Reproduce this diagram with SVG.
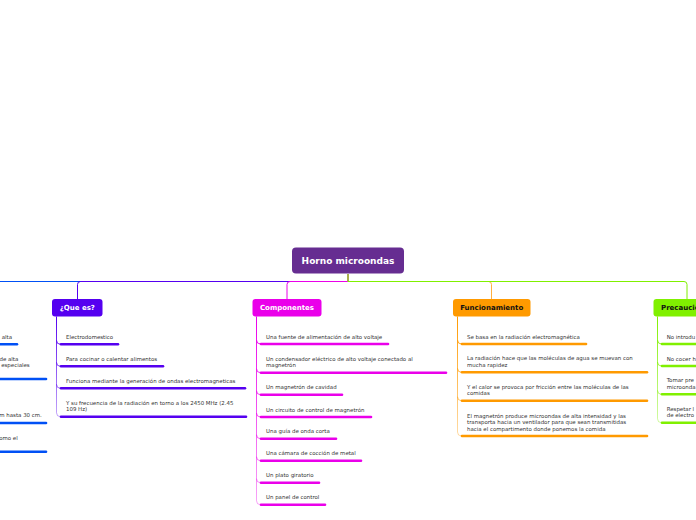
<svg xmlns="http://www.w3.org/2000/svg" width="696" height="520" viewBox="0 0 696 520">
<style>
.root{font-family:"DejaVu Sans",Verdana,sans-serif;font-weight:bold;font-size:9px;fill:#fff;text-anchor:middle}
.br{font-family:"DejaVu Sans",Verdana,sans-serif;font-weight:bold;font-size:7px;text-anchor:middle}
.t{font-family:"DejaVu Sans",Verdana,sans-serif;font-size:5.45px;fill:#333}
.te{font-family:"DejaVu Sans",Verdana,sans-serif;font-size:5.45px;fill:#333;text-anchor:end}
.c{fill:none;stroke-width:1}
.u{stroke-width:2.6;stroke-linecap:round}
</style>
<defs>
<linearGradient id="gQ" x1="0" y1="0" x2="0" y2="1"><stop offset="0" stop-color="#5500f0"/><stop offset="1" stop-color="#5500f0" stop-opacity="0.35"/></linearGradient>
<linearGradient id="gC" x1="0" y1="0" x2="0" y2="1"><stop offset="0" stop-color="#ea00ea"/><stop offset="1" stop-color="#ea00ea" stop-opacity="0.35"/></linearGradient>
<linearGradient id="gF" x1="0" y1="0" x2="0" y2="1"><stop offset="0" stop-color="#ff9a00"/><stop offset="1" stop-color="#ff9a00" stop-opacity="0.35"/></linearGradient>
<linearGradient id="gP" x1="0" y1="0" x2="0" y2="1"><stop offset="0" stop-color="#80f000"/><stop offset="1" stop-color="#80f000" stop-opacity="0.35"/></linearGradient>
</defs>
<rect width="696" height="520" fill="#fff"/>

<g id="connectors">
<path class="c" stroke="#0050f5" d="M348 274 V281.5 H-10"/>
<path class="c" stroke="#5500f0" d="M348 274 V281.5 H80.5 Q77.5 281.5 77.5 284.5 V299"/>
<path class="c" stroke="#ea00ea" d="M348 274 V281.5 H290 Q287 281.5 287 284.5 V299"/>
<path class="c" stroke="#ffb040" d="M348 274 V281.5 H488.5 Q491.5 281.5 491.5 284.5 V299"/>
<path class="c" stroke="#80f000" d="M348 274 V281.5 H684 Q687 281.5 687 284.5 V299"/>
<path class="c" stroke="url(#gQ)" d="M56.5 316.5 V412.7 M56.5 340.3 Q56.5 344.3 60.5 344.3 M56.5 362.3 Q56.5 366.3 60.5 366.3 M56.5 384.3 Q56.5 388.3 60.5 388.3 M56.5 412.7 Q56.5 416.7 60.5 416.7"/>
<path class="c" stroke="url(#gC)" d="M256.5 316.5 V500.7 M256.5 340 Q256.5 344 260.5 344 M256.5 368.7 Q256.5 372.7 260.5 372.7 M256.5 390.7 Q256.5 394.7 260.5 394.7 M256.5 413 Q256.5 417 260.5 417 M256.5 434.7 Q256.5 438.7 260.5 438.7 M256.5 456.7 Q256.5 460.7 260.5 460.7 M256.5 478.7 Q256.5 482.7 260.5 482.7 M256.5 500.7 Q256.5 504.7 260.5 504.7"/>
<path class="c" stroke="url(#gF)" d="M457.5 316.5 V432 M457.5 340 Q457.5 344 461.5 344 M457.5 368.3 Q457.5 372.3 461.5 372.3 M457.5 396.7 Q457.5 400.7 461.5 400.7 M457.5 432 Q457.5 436 461.5 436"/>
<path class="c" stroke="url(#gP)" d="M657.5 316.5 V418.7 M657.5 340 Q657.5 344 661.5 344 M657.5 362 Q657.5 366 661.5 366 M657.5 390.3 Q657.5 394.3 661.5 394.3 M657.5 418.7 Q657.5 422.7 661.5 422.7"/>
</g>

<g id="root">
<rect x="292" y="247.5" width="112" height="26" rx="4" fill="#662d91"/>
<text class="root" x="348" y="263.8">Horno microondas</text>
</g>

<g id="left-branch">
<line class="u" stroke="#0050f5" x1="-20" y1="344.3" x2="17" y2="344.3"/>
<text class="te" x="12" y="339">alta</text>
<line class="u" stroke="#0050f5" x1="-20" y1="379" x2="46" y2="379"/>
<text class="te" x="18.3" y="360.5">de alta</text>
<text class="te" x="29.7" y="367.2">especiales</text>
<line class="u" stroke="#0050f5" x1="-20" y1="423" x2="46" y2="423"/>
<text class="te" x="41.8" y="417.4">m hasta 30 cm.</text>
<line class="u" stroke="#0050f5" x1="-20" y1="451.7" x2="46" y2="451.7"/>
<text class="te" x="17.7" y="439.5">omo el</text>
</g>

<g id="que-es">
<rect x="52" y="299" width="50.5" height="17.5" rx="3" fill="#5500f0"/>
<text class="br" x="77.3" y="310.4" fill="#fff">¿Que es?</text>
<line class="u" stroke="#5500f0" x1="61" y1="344.3" x2="118" y2="344.3"/>
<text class="t" x="66" y="338.8">Electrodomestico</text>
<line class="u" stroke="#5500f0" x1="61" y1="366.3" x2="163" y2="366.3"/>
<text class="t" x="66" y="360.8">Para cocinar o calentar alimentos</text>
<line class="u" stroke="#5500f0" x1="61" y1="388.3" x2="245" y2="388.3"/>
<text class="t" x="66" y="382.8">Funciona mediante la generación de ondas electromagneticas</text>
<line class="u" stroke="#5500f0" x1="61" y1="416.7" x2="246" y2="416.7"/>
<text class="t" x="66" y="404.7">Y su frecuencia de la radiación en torno a los 2450 MHz (2.45</text>
<text class="t" x="66" y="411.2">109 Hz)</text>
</g>

<g id="componentes">
<rect x="252.5" y="299" width="69" height="17.5" rx="3" fill="#ea00ea"/>
<text class="br" x="287" y="310.4" fill="#fff">Componentes</text>
<line class="u" stroke="#ea00ea" x1="261" y1="344" x2="388" y2="344"/>
<text class="t" x="266" y="338.5">Una fuente de alimentación de alto voltaje</text>
<line class="u" stroke="#ea00ea" x1="261" y1="372.7" x2="446" y2="372.7"/>
<text class="t" x="266" y="360.7">Un condensador eléctrico de alto voltaje conectado al</text>
<text class="t" x="266" y="367.2">magnetrón</text>
<line class="u" stroke="#ea00ea" x1="261" y1="394.7" x2="342" y2="394.7"/>
<text class="t" x="266" y="389.2">Un magnetrón de cavidad</text>
<line class="u" stroke="#ea00ea" x1="261" y1="417" x2="371" y2="417"/>
<text class="t" x="266" y="411.5">Un circuito de control de magnetrón</text>
<line class="u" stroke="#ea00ea" x1="261" y1="438.7" x2="336" y2="438.7"/>
<text class="t" x="266" y="433.2">Una guía de onda corta</text>
<line class="u" stroke="#ea00ea" x1="261" y1="460.7" x2="361" y2="460.7"/>
<text class="t" x="266" y="455.2">Una cámara de cocción de metal</text>
<line class="u" stroke="#ea00ea" x1="261" y1="482.7" x2="319" y2="482.7"/>
<text class="t" x="266" y="477.2">Un plato giratorio</text>
<line class="u" stroke="#ea00ea" x1="261" y1="504.7" x2="325" y2="504.7"/>
<text class="t" x="266" y="499.2">Un panel de control</text>
</g>

<g id="funcionamiento">
<rect x="453" y="299" width="77.5" height="17.5" rx="3" fill="#ff9a00"/>
<text class="br" x="491.7" y="310.4" fill="#111">Funcionamiento</text>
<line class="u" stroke="#ff9a00" x1="462" y1="344" x2="586" y2="344"/>
<text class="t" x="467" y="338.5">Se basa en la radiación electromagnética</text>
<line class="u" stroke="#ff9a00" x1="462" y1="372.3" x2="647" y2="372.3"/>
<text class="t" x="467" y="360.3">La radiación hace que las moléculas de agua se muevan con</text>
<text class="t" x="467" y="366.8">mucha rapidez</text>
<line class="u" stroke="#ff9a00" x1="462" y1="400.7" x2="647" y2="400.7"/>
<text class="t" x="467" y="388.7">Y el calor se provoca por fricción entre las moléculas de las</text>
<text class="t" x="467" y="395.2">comidas</text>
<line class="u" stroke="#ff9a00" x1="462" y1="436" x2="647" y2="436"/>
<text class="t" x="467" y="417.5">El magnetrón produce microondas de alta intensidad y las</text>
<text class="t" x="467" y="424">transporta hacia un ventilador para que sean transmitidas</text>
<text class="t" x="467" y="430.5">hacia el compartimento donde ponemos la comida</text>
</g>

<g id="precauciones">
<rect x="653.5" y="299" width="68" height="17.5" rx="3" fill="#80f000"/>
<text class="br" x="661" y="310.4" fill="#111" style="text-anchor:start">Precauciones</text>
<line class="u" stroke="#80f000" x1="662" y1="344" x2="720" y2="344"/>
<text class="t" x="666.7" y="338.5">No introdu</text>
<line class="u" stroke="#80f000" x1="662" y1="366" x2="720" y2="366"/>
<text class="t" x="666.7" y="360.5">No cocer h</text>
<line class="u" stroke="#80f000" x1="662" y1="394.3" x2="720" y2="394.3"/>
<text class="t" x="666.7" y="382.3">Tomar pre</text>
<text class="t" x="666.7" y="388.8">microonda</text>
<line class="u" stroke="#80f000" x1="662" y1="422.7" x2="720" y2="422.7"/>
<text class="t" x="666.7" y="410.7">Respetar l</text>
<text class="t" x="666.7" y="417.2">de electro</text>
</g>
</svg>
